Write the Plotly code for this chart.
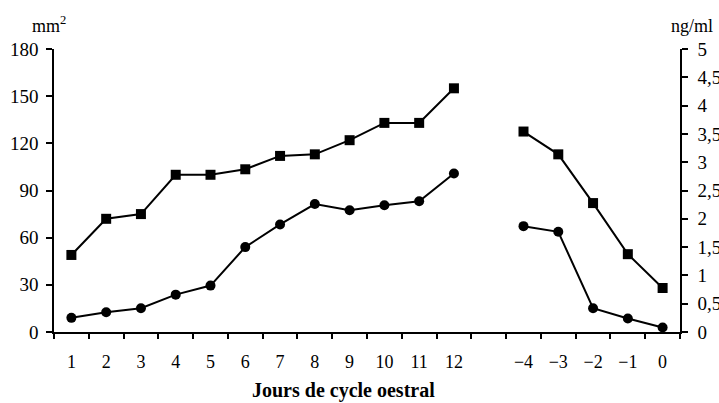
import plotly.graph_objects as go

categories = ["1", "2", "3", "4", "5", "6", "7", "8", "9", "10", "11", "12", " ",
              "\u22124", "\u22123", "\u22122", "\u22121", "0"]
area_mm2 = [49, 72, 75, 100, 100, 103.5, 112, 113, 122, 133, 133, 155, None,
            127.5, 113, 82, 49.5, 28]
conc_ngml = [0.25, 0.35, 0.42, 0.66, 0.82, 1.50, 1.90, 2.26, 2.15, 2.24, 2.31, 2.80, None,
             1.87, 1.77, 0.42, 0.24, 0.08]
left_ticks = [0, 30, 60, 90, 120, 150, 180]
right_ticks = [0, 0.5, 1, 1.5, 2, 2.5, 3, 3.5, 4, 4.5, 5]
right_ticktext = ["0", "0,5", "1", "1,5", "2", "2,5", "3", "3,5", "4", "4,5", "5"]
x_title = "<b>Jours de cycle oestral</b>"

FONT = "Liberation Serif"

fig = go.Figure()
fig.add_trace(go.Scatter(
    x=categories, y=area_mm2, mode="lines+markers", connectgaps=False,
    line=dict(color="black", width=2),
    marker=dict(symbol="square", size=10, color="black"),
    cliponaxis=False, showlegend=False, yaxis="y"))
fig.add_trace(go.Scatter(
    x=categories, y=conc_ngml, mode="lines+markers", connectgaps=False,
    line=dict(color="black", width=2),
    marker=dict(symbol="circle", size=10, color="black"),
    cliponaxis=False, showlegend=False, yaxis="y2"))

fig.update_layout(
    width=719, height=403,
    margin=dict(l=54, r=39, t=49, b=71),
    paper_bgcolor="white", plot_bgcolor="white",
    font=dict(family=FONT, size=18, color="black"),
    xaxis=dict(
        type="category", categoryorder="array", categoryarray=categories,
        range=[-0.5, len(categories) - 0.5], automargin=False,
        tickson="boundaries", ticks="outside", ticklen=5, tickwidth=1.5, tickcolor="black",
        showline=True, linecolor="black", linewidth=1.5, showgrid=False, zeroline=False,
        tickfont=dict(family=FONT, size=18), ticklabelstandoff=13, fixedrange=True),
    yaxis=dict(
        range=[0, 180], tickvals=left_ticks, ticks="outside", ticklen=6, tickwidth=1.5,
        tickcolor="black", showline=True, linecolor="black", linewidth=1.5, automargin=False,
        showgrid=False, zeroline=False, tickfont=dict(family=FONT, size=19), ticklabelstandoff=4),
    yaxis2=dict(
        range=[0, 5], tickvals=right_ticks, ticktext=right_ticktext, overlaying="y", side="right",
        ticks="outside", ticklen=6, tickwidth=1.5, tickcolor="black", showline=True,
        linecolor="black", linewidth=1.5, showgrid=False, zeroline=False, automargin=False,
        tickfont=dict(family=FONT, size=19), ticklabelstandoff=6),
    annotations=[
        dict(text=x_title, xref="paper", yref="paper", x=0.4625, y=-0.208,
             xanchor="center", yanchor="middle", showarrow=False, font=dict(family=FONT, size=20)),
        dict(text="mm<sup>2</sup>", xref="paper", yref="paper", x=0.022, y=1.04,
             xanchor="right", yanchor="bottom", showarrow=False, font=dict(family=FONT, size=18)),
        dict(text="ng/ml", xref="paper", yref="paper", x=1.019, y=1.04,
             xanchor="center", yanchor="bottom", showarrow=False, font=dict(family=FONT, size=18)),
    ],
)

# remove the browser's default 8px body margin so the 719x403 figure fills the window
fig.write_html("out.html", config={"displayModeBar": False},
               post_script="document.body.style.margin='0';document.body.style.overflow='hidden';")
